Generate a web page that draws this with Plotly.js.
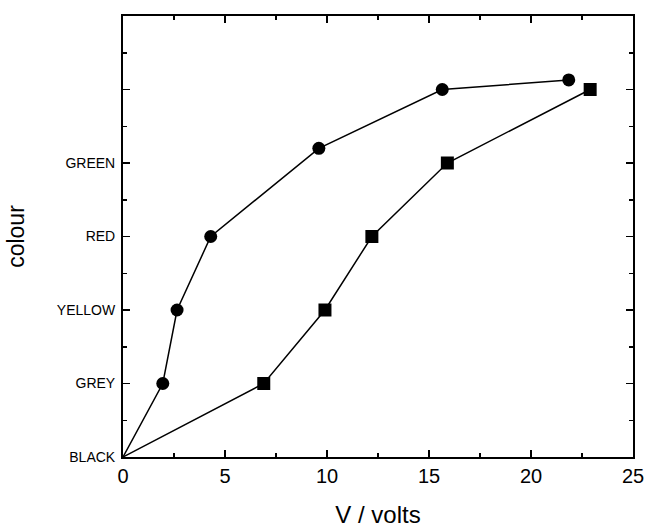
<!DOCTYPE html>
<html>
<head>
<meta charset="utf-8">
<script src="https://cdn.plot.ly/plotly-3.0.1.min.js"></script>
<style>body{margin:0;padding:0;background:#fff;} #chart{width:646px;height:528px;}</style>
</head>
<body>
<div id="chart"></div>
<script>
// Data
var colourLevels = [0, 1, 2, 3, 4, 5, 6];
var colourLabels = ["BLACK", "GREY", "YELLOW", "RED", "GREEN", "", ""];

var circleV = [0, 1.95, 2.65, 4.3, 9.6, 15.65, 21.85];
var circleColour = [0, 1, 2, 3, 4.2, 5, 5.13];

var squareV = [0, 6.9, 9.9, 12.2, 15.9, 22.9];
var squareColour = [0, 1, 2, 3, 4, 5];

// origin point is drawn as line start only (no marker)
function sizes(arr, s) { return arr.map(function (v, i) { return i === 0 ? 0 : s; }); }

var traces = [
  {
    x: circleV, y: circleColour, type: "scatter", mode: "lines+markers",
    line: {color: "#000", width: 1.5},
    marker: {symbol: "circle", size: sizes(circleV, 13), color: "#000", opacity: 1,
             line: {width: 0}},
    showlegend: false, cliponaxis: false
  },
  {
    x: squareV, y: squareColour, type: "scatter", mode: "lines+markers",
    line: {color: "#000", width: 1.5},
    marker: {symbol: "square", size: sizes(squareV, 13), color: "#000", opacity: 1,
             line: {width: 0}},
    showlegend: false, cliponaxis: false
  }
];

var fontFam = "Liberation Sans, Arial, sans-serif";

var layout = {
  width: 646, height: 528,
  margin: {l: 123, r: 13, t: 16, b: 71},
  paper_bgcolor: "#fff", plot_bgcolor: "#fff",
  font: {family: fontFam, color: "#000"},
  xaxis: {
    range: [0, 25], dtick: 5, tick0: 0,
    ticks: "inside", ticklen: 7, tickwidth: 1.5, tickcolor: "#000",
    minor: {dtick: 2.5, ticks: "inside", ticklen: 4, tickwidth: 1.5, tickcolor: "#000"},
    showline: true, linewidth: 2, linecolor: "#000", mirror: "ticks",
    showgrid: false, zeroline: false,
    tickfont: {size: 20, family: fontFam},
    title: {text: "V / volts", font: {size: 24, family: fontFam}, standoff: 24},
    automargin: false
  },
  yaxis: {
    range: [0, 6],
    tickmode: "array", tickvals: colourLevels, ticktext: colourLabels,
    ticks: "inside", ticklen: 7, tickwidth: 1.5, tickcolor: "#000",
    minor: {dtick: 0.5, tick0: 0, ticks: "inside", ticklen: 4, tickwidth: 1.5, tickcolor: "#000"},
    showline: true, linewidth: 2, linecolor: "#000", mirror: "ticks",
    showgrid: false, zeroline: false,
    tickfont: {size: 14, family: fontFam},
    ticklabelstandoff: 3,
    title: {text: "colour", font: {size: 23, family: fontFam}, standoff: 26},
    automargin: false
  }
};

Plotly.newPlot("chart", traces, layout, {displayModeBar: false, staticPlot: true});
</script>
</body>
</html>
